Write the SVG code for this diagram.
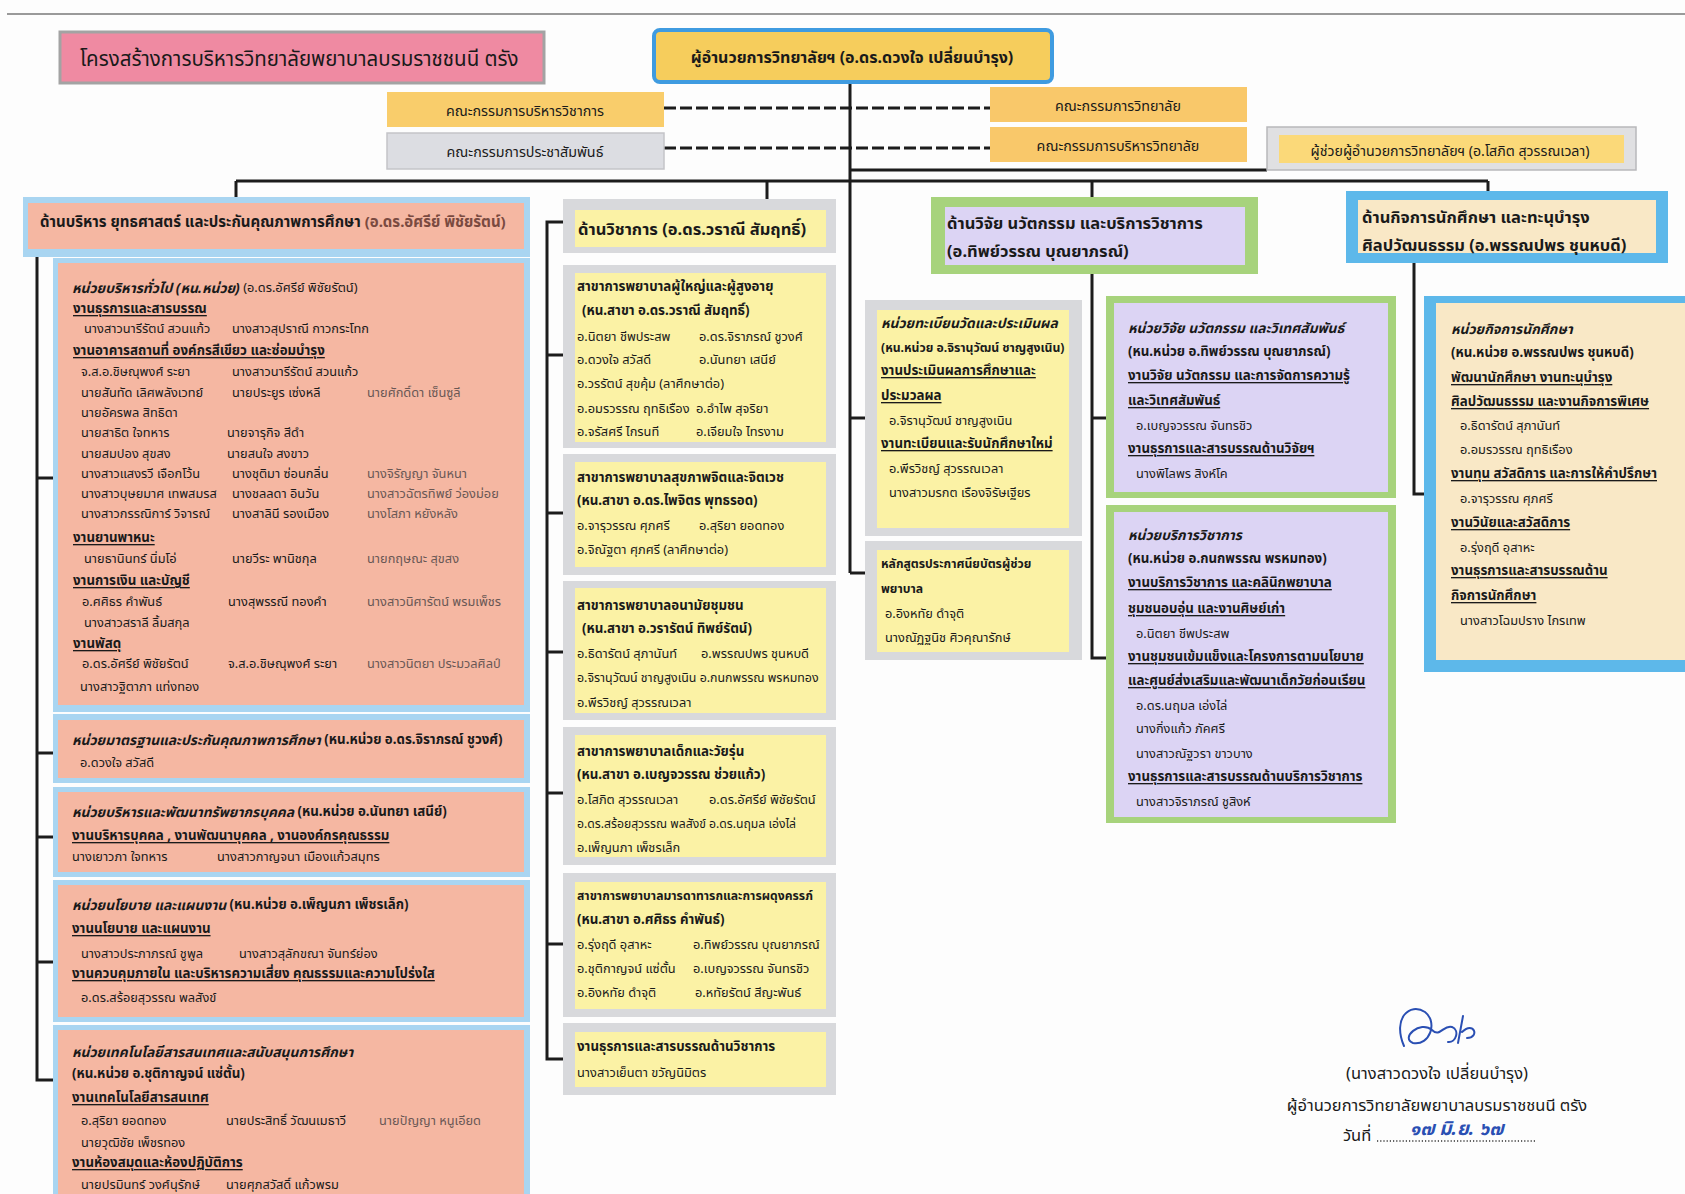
<svg xmlns="http://www.w3.org/2000/svg" width="1685" height="1194" viewBox="0 0 1685 1194" xml:space="preserve">
<style>
text{font-family:"Noto Sans","Noto Sans Thai",sans-serif;fill:#1a1a1a;dominant-baseline:central}
.t{font-size:12.8px}
.f{font-size:12.8px;fill:#6a5855}
.h{font-size:13.3px;font-weight:bold;text-decoration:underline}
.u{font-size:13.8px;font-weight:bold;font-style:italic}
.b{font-size:13.3px;font-weight:bold}
.H{font-size:16.5px;font-weight:bold}
.ln{stroke:#1c1c1c;stroke-width:3;fill:none}
.ds{stroke:#1c1c1c;stroke-width:3;fill:none;stroke-dasharray:12 4}
.ob{fill:#a9d5f1}.sa{fill:#f5b7a2}
.og{fill:#d8d9dc}.ye{fill:#fbf2a5}
.gr{fill:#a7d37c}.la{fill:#dcd4f4}
.bl{fill:#5db8ea}.cr{fill:#f9e8c6}
</style>
<rect x="0" y="0" width="1685" height="1194" fill="#fdfdfd"/>
<line x1="7" y1="14" x2="1685" y2="14" stroke="#9a9a9a" stroke-width="2"/>

<g id="connectors">
<line class="ln" x1="850" y1="83" x2="850" y2="573"/>
<line class="ln" x1="850" y1="418" x2="865" y2="418"/>
<line class="ln" x1="850" y1="573" x2="865" y2="573"/>
<line class="ds" x1="664" y1="108" x2="990" y2="108"/>
<line class="ds" x1="664" y1="148" x2="990" y2="148"/>
<line class="ln" x1="850" y1="170" x2="1267" y2="170"/>
<line class="ln" x1="236" y1="181" x2="1488" y2="181"/>
<line class="ln" x1="236" y1="181" x2="236" y2="197"/>
<line class="ln" x1="767" y1="181" x2="767" y2="199"/>
<line class="ln" x1="1092" y1="181" x2="1092" y2="197"/>
<line class="ln" x1="1488" y1="181" x2="1488" y2="191"/>
<polyline class="ln" points="37,257 37,1080 53,1080"/>
<line class="ln" x1="37" y1="478" x2="53" y2="478"/>
<line class="ln" x1="37" y1="753" x2="53" y2="753"/>
<line class="ln" x1="37" y1="837" x2="53" y2="837"/>
<line class="ln" x1="37" y1="962" x2="53" y2="962"/>
<polyline class="ln" points="563,222 547,222 547,1059 563,1059"/>
<line class="ln" x1="547" y1="355" x2="563" y2="355"/>
<line class="ln" x1="547" y1="513" x2="563" y2="513"/>
<line class="ln" x1="547" y1="652" x2="563" y2="652"/>
<line class="ln" x1="547" y1="793" x2="563" y2="793"/>
<line class="ln" x1="547" y1="944" x2="563" y2="944"/>
<polyline class="ln" points="1092,274 1092,658 1106,658"/>
<line class="ln" x1="1092" y1="418" x2="1106" y2="418"/>
<polyline class="ln" points="1414,263 1414,494 1424,494"/>
</g>

<g id="title">
<rect x="60" y="32" width="484" height="51" fill="#ef8aa2" stroke="#a3a3a3" stroke-width="3"/>
<text x="80" y="58" style="font-size:20.5px">โครงสร้างการบริหารวิทยาลัยพยาบาลบรมราชชนนี  ตรัง</text>
</g>

<g id="director">
<rect x="654" y="30" width="398" height="52" rx="6" fill="#f6cd5c" stroke="#3f9be0" stroke-width="4"/>
<text x="852" y="57" text-anchor="middle" style="font-size:16px;font-weight:bold">ผู้อำนวยการวิทยาลัยฯ (อ.ดร.ดวงใจ  เปลี่ยนบำรุง)</text>
</g>

<g id="committee-academic">
<rect x="387" y="92" width="277" height="35" fill="#f9cd6b"/>
<text x="525" y="110" text-anchor="middle" style="font-size:14.3px">คณะกรรมการบริหารวิชาการ</text>
</g>
<g id="committee-pr">
<rect x="387" y="133" width="277" height="36" fill="#dcdde2" stroke="#c4c4c8" stroke-width="1.5"/>
<text x="525" y="151" text-anchor="middle" style="font-size:14.3px">คณะกรรมการประชาสัมพันธ์</text>
</g>
<g id="committee-college">
<rect x="990" y="87" width="257" height="35" fill="#f9c86a"/>
<text x="1118" y="105" text-anchor="middle" style="font-size:14.3px">คณะกรรมการวิทยาลัย</text>
</g>
<g id="committee-admin">
<rect x="990" y="127" width="257" height="35" fill="#f9c86a"/>
<text x="1118" y="145" text-anchor="middle" style="font-size:14.3px">คณะกรรมการบริหารวิทยาลัย</text>
</g>
<g id="assistant">
<rect x="1267" y="127" width="369" height="43" fill="#e0e0e2" stroke="#b8b8bb" stroke-width="1.5"/>
<rect x="1279" y="135" width="345" height="28" fill="#fbd979"/>
<text x="1450" y="150" text-anchor="middle" style="font-size:14.2px">ผู้ช่วยผู้อำนวยการวิทยาลัยฯ (อ.โสภิต  สุวรรณเวลา)</text>
</g>

<g id="div-admin">
<rect class="ob" x="23" y="197" width="507" height="60"/>
<rect class="sa" x="28" y="203" width="496" height="46"/>
<text class="H" x="40" y="221" style="font-size:15px">ด้านบริหาร ยุทธศาสตร์ และประกันคุณภาพการศึกษา <tspan fill="#7a4a40">(อ.ดร.อัศรีย์ พิชัยรัตน์)</tspan></text>
</g>

<g id="unit-general">
<rect class="ob" x="53" y="258" width="477" height="454"/>
<rect class="sa" x="58" y="263" width="466" height="442"/>
<text x="72" y="287"><tspan class="u">หน่วยบริหารทั่วไป (หน.หน่วย)</tspan><tspan class="t"> (อ.ดร.อัศรีย์ พิชัยรัตน์)</tspan></text>
<text class="h" x="73" y="308">งานธุรการและสารบรรณ</text>
<text class="t" x="84" y="328">นางสาวนารีรัตน์  สวนแก้ว</text>
<text class="t" x="232" y="328">นางสาวสุปราณี  กาวกระโทก</text>
<text class="h" x="73" y="350">งานอาคารสถานที่ องค์กรสีเขียว และซ่อมบำรุง</text>
<text class="t" x="81" y="371">จ.ส.อ.ชิษณุพงศ์  ระยา</text>
<text class="t" x="232" y="371">นางสาวนารีรัตน์  สวนแก้ว</text>
<text class="t" x="81" y="392">นายสันทัด  เลิศพลังเวทย์</text>
<text class="t" x="232" y="392">นายประยูร เซ่งหลี</text>
<text class="f" x="367" y="392">นายศักดิ์ดา  เซ็นซูลี</text>
<text class="t" x="81" y="412">นายอัครพล  สิทธิดา</text>
<text class="t" x="81" y="432">นายสาธิต  ใจทหาร</text>
<text class="t" x="227" y="432">นายจารุกิจ  สีดำ</text>
<text class="t" x="81" y="453">นายสมปอง  สุขสง</text>
<text class="t" x="227" y="453">นายสนใจ  สงขาว</text>
<text class="t" x="81" y="473">นางสาวแสงรวี  เจือกโว้น</text>
<text class="t" x="232" y="473">นางชุติมา  ซ่อนกลิ่น</text>
<text class="f" x="367" y="473">นางจิรัญญา  จันหนา</text>
<text class="t" x="81" y="493">นางสาวบุษยมาศ  เทพสมรส</text>
<text class="t" x="232" y="493">นางชลลดา  อินวัน</text>
<text class="f" x="367" y="493">นางสาวฉัตรทิพย์  ว่องม่อย</text>
<text class="t" x="81" y="513">นางสาวกรรณิการ์  วิจารณ์</text>
<text class="t" x="232" y="513">นางสาลินี รองเมือง</text>
<text class="f" x="367" y="513">นางโสภา  หยังหลัง</text>
<text class="h" x="73" y="537">งานยานพาหนะ</text>
<text class="t" x="84" y="558">นายธานินทร์ นิ่มโอ่</text>
<text class="t" x="232" y="558">นายวีระ  พานิชกุล</text>
<text class="f" x="367" y="558">นายกฤษณะ  สุขสง</text>
<text class="h" x="73" y="580">งานการเงิน และบัญชี</text>
<text class="t" x="82" y="601">อ.ศศิธร คำพันธ์</text>
<text class="t" x="228" y="601">นางสุพรรณี  ทองคำ</text>
<text class="f" x="367" y="601">นางสาวนิศารัตน์  พรมเพ็ชร</text>
<text class="t" x="84" y="622">นางสาวสราลี  ลิ้มสกุล</text>
<text class="h" x="73" y="643">งานพัสดุ</text>
<text class="t" x="82" y="663">อ.ดร.อัศรีย์ พิชัยรัตน์</text>
<text class="t" x="228" y="663">จ.ส.อ.ชิษณุพงศ์  ระยา</text>
<text class="f" x="367" y="663">นางสาวนิตยา  ประมวลศิลป์</text>
<text class="t" x="80" y="686">นางสาวฐิตาภา  แท่งทอง</text>
</g>

<g id="unit-qa">
<rect class="ob" x="53" y="714" width="477" height="69"/>
<rect class="sa" x="58" y="720" width="466" height="58"/>
<text x="72" y="739"><tspan class="u">หน่วยมาตรฐานและประกันคุณภาพการศึกษา</tspan><tspan class="b"> (หน.หน่วย อ.ดร.จิราภรณ์ ชูวงศ์)</tspan></text>
<text class="t" x="80" y="762">อ.ดวงใจ สวัสดี</text>
</g>

<g id="unit-hr">
<rect class="ob" x="53" y="787" width="477" height="90"/>
<rect class="sa" x="58" y="792" width="466" height="80"/>
<text x="72" y="811"><tspan class="u">หน่วยบริหารและพัฒนาทรัพยากรบุคคล</tspan><tspan class="b"> (หน.หน่วย อ.นันทยา เสนีย์)</tspan></text>
<text class="h" x="72" y="835">งานบริหารบุคคล , งานพัฒนาบุคคล , งานองค์กรคุณธรรม</text>
<text class="t" x="72" y="856">นางเยาวภา  ใจทหาร</text>
<text class="t" x="217" y="856">นางสาวกาญจนา  เมืองแก้วสมุทร</text>
</g>

<g id="unit-policy">
<rect class="ob" x="53" y="880" width="477" height="142"/>
<rect class="sa" x="58" y="885" width="466" height="132"/>
<text x="72" y="904"><tspan class="u">หน่วยนโยบาย และแผนงาน</tspan><tspan class="b"> (หน.หน่วย อ.เพ็ญนภา เพ็ชรเล็ก)</tspan></text>
<text class="h" x="72" y="928">งานนโยบาย และแผนงาน</text>
<text class="t" x="81" y="953">นางสาวประภาภรณ์  ชูพูล</text>
<text class="t" x="239" y="953">นางสาวสุลักขณา จันทร์ย่อง</text>
<text class="h" x="72" y="973">งานควบคุมภายใน และบริหารความเสี่ยง คุณธรรมและความโปร่งใส</text>
<text class="t" x="81" y="997">อ.ดร.สร้อยสุวรรณ พลสังข์</text>
</g>

<g id="unit-it">
<rect class="ob" x="53" y="1025" width="477" height="175"/>
<rect class="sa" x="58" y="1030" width="466" height="170"/>
<text class="u" x="72" y="1051">หน่วยเทคโนโลยีสารสนเทศและสนับสนุนการศึกษา</text>
<text class="b" x="72" y="1073">(หน.หน่วย อ.ชุติกาญจน์ แซ่ตั้น)</text>
<text class="h" x="72" y="1097">งานเทคโนโลยีสารสนเทศ</text>
<text class="t" x="81" y="1120">อ.สุริยา ยอดทอง</text>
<text class="t" x="226" y="1120">นายประสิทธิ์ วัฒนเมธาวี</text>
<text class="f" x="379" y="1120">นายปัญญา  หนูเอียด</text>
<text class="t" x="81" y="1142">นายวุฒิชัย  เพ็ชรทอง</text>
<text class="h" x="72" y="1162">งานห้องสมุดและห้องปฏิบัติการ</text>
<text class="t" x="81" y="1184">นายปรมินทร์  วงศ์นุรักษ์</text>
<text class="t" x="226" y="1184">นายศุภสวัสดิ์  แก้วพรม</text>
</g>

<g id="div-academic">
<rect class="og" x="563" y="199" width="273" height="54"/>
<rect class="ye" x="575" y="210" width="251" height="37"/>
<text class="H" x="578" y="228">ด้านวิชาการ (อ.ดร.วราณี สัมฤทธิ์)</text>
</g>

<g id="branch-adult">
<rect class="og" x="563" y="265" width="273" height="183"/>
<rect class="ye" x="575" y="273" width="251" height="169"/>
<text class="b" x="577" y="286">สาขาการพยาบาลผู้ใหญ่และผู้สูงอายุ</text>
<text class="b" x="582" y="310">(หน.สาขา อ.ดร.วราณี สัมฤทธิ์)</text>
<text class="t" x="577" y="336">อ.นิตยา  ชีพประสพ</text>
<text class="t" x="699" y="336">อ.ดร.จิราภรณ์  ชูวงศ์</text>
<text class="t" x="577" y="359">อ.ดวงใจ   สวัสดี</text>
<text class="t" x="699" y="359">อ.นันทยา  เสนีย์</text>
<text class="t" x="577" y="383">อ.วรรัตน์ สุขคุ้ม (ลาศึกษาต่อ)</text>
<text class="t" x="577" y="408">อ.อมรวรรณ ฤทธิเรือง</text>
<text class="t" x="696" y="408">อ.อำไพ สุจริยา</text>
<text class="t" x="577" y="431">อ.จรัสศรี ไกรนที</text>
<text class="t" x="696" y="431">อ.เจียมใจ   ไทรงาม</text>
</g>

<g id="branch-psych">
<rect class="og" x="563" y="454" width="273" height="121"/>
<rect class="ye" x="575" y="462" width="251" height="105"/>
<text class="b" x="577" y="477">สาขาการพยาบาลสุขภาพจิตและจิตเวช</text>
<text class="b" x="577" y="500">(หน.สาขา อ.ดร.ไพจิตร พุทธรอด)</text>
<text class="t" x="577" y="525">อ.จารุวรรณ  ศุภศรี</text>
<text class="t" x="699" y="525">อ.สุริยา  ยอดทอง</text>
<text class="t" x="577" y="549">อ.จิณัฐตา  ศุภศรี (ลาศึกษาต่อ)</text>
</g>

<g id="branch-community">
<rect class="og" x="563" y="581" width="273" height="139"/>
<rect class="ye" x="575" y="588" width="251" height="125"/>
<text class="b" x="577" y="605">สาขาการพยาบาลอนามัยชุมชน</text>
<text class="b" x="582" y="628">(หน.สาขา  อ.วรารัตน์ ทิพย์รัตน์)</text>
<text class="t" x="577" y="653">อ.ธิดารัตน์ สุภานันท์</text>
<text class="t" x="701" y="653">อ.พรรณปพร  ชุนหบดี</text>
<text class="t" x="577" y="677" style="font-size:12.4px">อ.จิรานุวัฒน์  ชาญสูงเนิน อ.กนกพรรณ พรหมทอง</text>
<text class="t" x="577" y="702">อ.พีรวิชญ์ สุวรรณเวลา</text>
</g>

<g id="branch-child">
<rect class="og" x="563" y="727" width="273" height="138"/>
<rect class="ye" x="575" y="735" width="251" height="122"/>
<text class="b" x="577" y="751">สาขาการพยาบาลเด็กและวัยรุ่น</text>
<text class="b" x="577" y="774">(หน.สาขา อ.เบญจวรรณ ช่วยแก้ว)</text>
<text class="t" x="577" y="799">อ.โสภิต  สุวรรณเวลา</text>
<text class="t" x="709" y="799">อ.ดร.อัศรีย์  พิชัยรัตน์</text>
<text class="t" x="577" y="823" style="font-size:12.2px">อ.ดร.สร้อยสุวรรณ พลสังข์  อ.ดร.นฤมล เอ่งไล่</text>
<text class="t" x="577" y="847">อ.เพ็ญนภา  เพ็ชรเล็ก</text>
</g>

<g id="branch-maternal">
<rect class="og" x="563" y="873" width="273" height="144"/>
<rect class="ye" x="575" y="882" width="251" height="127"/>
<text class="b" x="577" y="895" style="font-size:12.2px">สาขาการพยาบาลมารดาทารกและการผดุงครรภ์</text>
<text class="b" x="577" y="919">(หน.สาขา  อ.ศศิธร คำพันธ์)</text>
<text class="t" x="577" y="944">อ.รุ่งฤดี อุสาหะ</text>
<text class="t" x="693" y="944">อ.ทิพย์วรรณ  บุณยาภรณ์</text>
<text class="t" x="577" y="968">อ.ชุติกาญจน์  แซ่ตั้น</text>
<text class="t" x="693" y="968">อ.เบญจวรรณ  จันทรชิว</text>
<text class="t" x="577" y="992">อ.อิงหทัย  ดำจุติ</text>
<text class="t" x="695" y="992">อ.หทัยรัตน์  สีญะพันธ์</text>
</g>

<g id="academic-office">
<rect class="og" x="563" y="1023" width="273" height="72"/>
<rect class="ye" x="575" y="1032" width="251" height="55"/>
<text class="b" x="577" y="1046">งานธุรการและสารบรรณด้านวิชาการ</text>
<text class="t" x="577" y="1072">นางสาวเย็นตา  ขวัญนิมิตร</text>
</g>

<g id="unit-registrar">
<rect class="og" x="865" y="300" width="217" height="236"/>
<rect class="ye" x="877" y="310" width="192" height="218"/>
<text class="u" x="881" y="322">หน่วยทะเบียนวัดและประเมินผล</text>
<text class="b" x="881" y="347" style="font-size:12.2px">(หน.หน่วย อ.จิรานุวัฒน์ ชาญสูงเนิน)</text>
<text class="h" x="881" y="370">งานประเมินผลการศึกษาและ</text>
<text class="h" x="881" y="395">ประมวลผล</text>
<text class="t" x="889" y="420">อ.จิรานุวัฒน์  ชาญสูงเนิน</text>
<text class="h" x="881" y="443">งานทะเบียนและรับนักศึกษาใหม่</text>
<text class="t" x="889" y="468">อ.พีรวิชญ์  สุวรรณเวลา</text>
<text class="t" x="889" y="492">นางสาวมรกต  เรืองจิรัษเฐียร</text>
</g>

<g id="program-assistant">
<rect class="og" x="865" y="541" width="217" height="119"/>
<rect class="ye" x="877" y="550" width="192" height="102"/>
<text class="b" x="881" y="563" style="font-size:12.2px">หลักสูตรประกาศนียบัตรผู้ช่วย</text>
<text class="b" x="881" y="588" style="font-size:12.2px">พยาบาล</text>
<text class="t" x="885" y="613">อ.อิงหทัย ดำจุติ</text>
<text class="t" x="885" y="637">นางณัฏฐนิช  ศิวคุณารักษ์</text>
</g>

<g id="div-research">
<rect class="gr" x="931" y="197" width="327" height="77"/>
<rect class="la" x="945" y="207" width="300" height="58"/>
<text class="H" x="947" y="222">ด้านวิจัย นวัตกรรม และบริการวิชาการ</text>
<text class="H" x="947" y="250">(อ.ทิพย์วรรณ บุณยาภรณ์)</text>
</g>

<g id="unit-research">
<rect class="gr" x="1106" y="296" width="290" height="202"/>
<rect class="la" x="1114" y="303" width="274" height="189"/>
<text class="u" x="1128" y="327">หน่วยวิจัย นวัตกรรม และวิเทศสัมพันธ์</text>
<text class="b" x="1128" y="351">(หน.หน่วย อ.ทิพย์วรรณ บุณยาภรณ์)</text>
<text class="h" x="1128" y="375">งานวิจัย นวัตกรรม และการจัดการความรู้</text>
<text class="h" x="1128" y="400">และวิเทศสัมพันธ์</text>
<text class="t" x="1136" y="425">อ.เบญจวรรณ จันทรชิว</text>
<text class="h" x="1128" y="448">งานธุรการและสารบรรณด้านวิจัยฯ</text>
<text class="t" x="1136" y="473">นางพิไลพร  สิงห์โค</text>
</g>

<g id="unit-service">
<rect class="gr" x="1106" y="505" width="290" height="318"/>
<rect class="la" x="1114" y="512" width="274" height="305"/>
<text class="u" x="1128" y="534">หน่วยบริการวิชาการ</text>
<text class="b" x="1128" y="558">(หน.หน่วย อ.กนกพรรณ พรหมทอง)</text>
<text class="h" x="1128" y="582">งานบริการวิชาการ และคลินิกพยาบาล</text>
<text class="h" x="1128" y="608">ชุมชนอบอุ่น และงานศิษย์เก่า</text>
<text class="t" x="1136" y="633">อ.นิตยา ชีพประสพ</text>
<text class="h" x="1128" y="656">งานชุมชนเข้มแข็งและโครงการตามนโยบาย</text>
<text class="h" x="1128" y="680">และศูนย์ส่งเสริมและพัฒนาเด็กวัยก่อนเรียน</text>
<text class="t" x="1136" y="705">อ.ดร.นฤมล เอ่งไล่</text>
<text class="t" x="1136" y="728">นางกิ่งแก้ว  ภัคศรี</text>
<text class="t" x="1136" y="753">นางสาวณัฐวรา  ขาวบาง</text>
<text class="h" x="1128" y="776">งานธุรการและสารบรรณด้านบริการวิชาการ</text>
<text class="t" x="1136" y="801">นางสาวจิราภรณ์   ชูสิงห์</text>
</g>

<g id="div-student">
<rect class="bl" x="1346" y="191" width="322" height="72"/>
<rect class="cr" x="1358" y="200" width="298" height="53"/>
<text class="H" x="1362" y="216">ด้านกิจการนักศึกษา และทะนุบำรุง</text>
<text class="H" x="1362" y="244">ศิลปวัฒนธรรม (อ.พรรณปพร ชุนหบดี)</text>
</g>

<g id="unit-student">
<rect class="bl" x="1424" y="296" width="280" height="376"/>
<rect class="cr" x="1436" y="303" width="268" height="357"/>
<text class="u" x="1451" y="328">หน่วยกิจการนักศึกษา</text>
<text class="b" x="1451" y="352">(หน.หน่วย อ.พรรณปพร ชุนหบดี)</text>
<text class="h" x="1451" y="377">พัฒนานักศึกษา งานทะนุบำรุง</text>
<text class="h" x="1451" y="401">ศิลปวัฒนธรรม และงานกิจการพิเศษ</text>
<text class="t" x="1460" y="425">อ.ธิดารัตน์ สุภานันท์</text>
<text class="t" x="1460" y="449">อ.อมรวรรณ ฤทธิเรือง</text>
<text class="h" x="1451" y="473">งานทุน สวัสดิการ และการให้คำปรึกษา</text>
<text class="t" x="1460" y="498">อ.จารุวรรณ ศุภศรี</text>
<text class="h" x="1451" y="522">งานวินัยและสวัสดิการ</text>
<text class="t" x="1460" y="547">อ.รุ่งฤดี อุสาหะ</text>
<text class="h" x="1451" y="570">งานธุรการและสารบรรณด้าน</text>
<text class="h" x="1451" y="595">กิจการนักศึกษา</text>
<text class="t" x="1460" y="620">นางสาวโฉมปราง ไกรเทพ</text>
</g>

<g id="signature">
<path d="M1404,1046 C1392,1018 1410,1002 1425,1012 C1438,1022 1430,1046 1413,1043 C1400,1038 1420,1020 1432,1030 C1440,1038 1444,1024 1452,1027 C1460,1030 1456,1043 1448,1042 M1458,1043 L1463,1016 M1462,1032 C1474,1020 1480,1038 1467,1038" fill="none" stroke="#2a4fb3" stroke-width="2" stroke-linecap="round"/>
<text x="1437" y="1072" text-anchor="middle" style="font-size:16.5px">(นางสาวดวงใจ  เปลี่ยนบำรุง)</text>
<text x="1437" y="1104" text-anchor="middle" style="font-size:16.5px">ผู้อำนวยการวิทยาลัยพยาบาลบรมราชชนนี ตรัง</text>
<text x="1343" y="1134" style="font-size:16.5px">วันที่</text>
<line x1="1377" y1="1141" x2="1537" y2="1141" stroke="#333" stroke-width="1.3" stroke-dasharray="1.2 2"/>
<text x="1410" y="1128" style="font-size:19px;font-style:italic;font-weight:bold;fill:#2a4fb3">๑๗ มิ.ย. ๖๗</text>
</g>
</svg>
